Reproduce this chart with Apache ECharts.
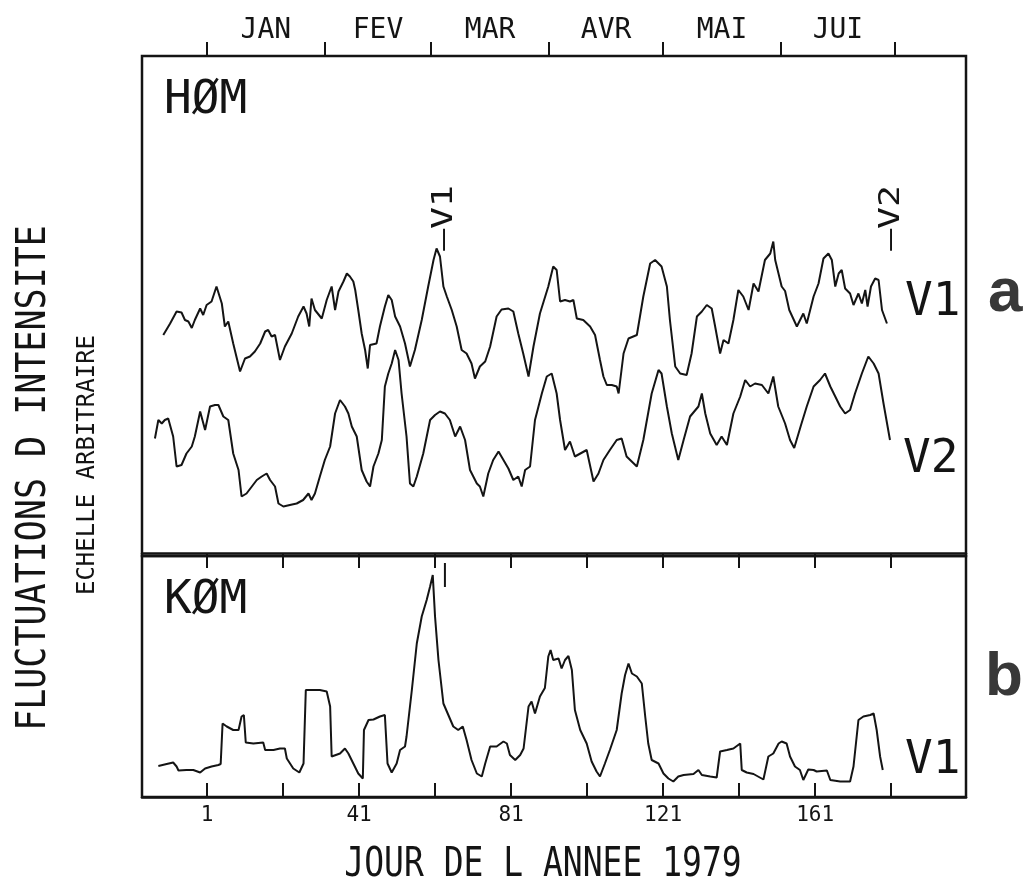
<!DOCTYPE html>
<html><head><meta charset="utf-8">
<script src="https://cdn.jsdelivr.net/npm/echarts@6/dist/echarts.min.js"></script>
<style>html,body{margin:0;padding:0;background:#fff}#c{width:1026px;height:891px}</style>
</head><body><div id="c"></div>
<script>
// ---- axis / tick data ----
const monthNames = ['JAN','FEV','MAR','AVR','MAI','JUI'];
const monthStarts = [1,32,60,91,121,152,182];
const monthMids = [16.5,46,75.5,106,136.5,167];
const tickDays = [1,21,41,61,81,101,121,141,161,181];
const labelDays = [1,41,81,121,161];

// ---- series: [day of year, intensity (arbitrary units)] ----
const homV1 = [[-10.5,43.6],[-8.7,45.9],[-7.0,48.3],[-5.7,48.1],[-4.8,46.6],[-3.9,46.3],[-3.0,45.0],[-2.2,46.6],[-0.8,48.9],[0.0,47.6],
[0.9,49.6],[2.2,50.3],[3.5,53.3],[4.9,49.9],[5.7,45.3],[6.6,46.3],[7.9,41.9],[9.7,36.3],[11.0,38.9],[12.3,39.3],
[13.6,40.3],[15.0,41.9],[16.3,44.3],[17.1,44.6],[18.0,43.3],[18.9,43.6],[20.2,38.6],[21.5,41.3],[23.3,43.9],[25.0,47.3],
[26.4,49.3],[27.2,47.9],[27.9,45.3],[28.5,50.9],[29.4,48.6],[31.2,46.9],[32.5,50.6],[33.8,53.3],[34.7,48.6],[35.6,52.3],
[36.9,54.3],[37.8,55.9],[38.6,55.3],[39.5,54.3],[40.0,52.6],[40.8,48.6],[41.7,43.9],[42.6,40.6],[43.3,36.9],[43.9,41.6],
[45.6,41.9],[46.5,45.3],[47.8,49.3],[48.7,51.6],[49.6,50.6],[50.5,47.3],[51.8,45.3],[53.1,41.9],[54.4,37.3],[55.7,40.6],
[57.5,46.6],[59.2,53.3],[60.6,58.6],[61.4,60.9],[62.3,59.3],[63.2,53.3],[64.1,51.3],[65.4,48.6],[66.7,45.3],[68.0,40.6],
[69.3,39.9],[70.6,37.9],[71.5,34.9],[72.8,37.3],[74.2,38.3],[75.5,41.3],[77.2,47.3],[78.5,48.7],[80.3,48.9],[81.6,48.3],
[82.9,43.9],[84.2,39.9],[85.6,35.3],[86.9,41.3],[88.6,47.9],[90.8,53.3],[92.1,57.3],[93.0,56.6],[93.9,50.3],[95.2,50.6],
[96.5,50.3],[97.4,50.6],[98.3,46.9],[100.0,46.6],[101.8,45.3],[103.1,43.6],[104.4,38.6],[105.3,35.3],[106.2,33.6],[107.5,33.6],
[108.8,33.3],[109.3,31.9],[110.6,39.9],[111.9,42.9],[114.1,43.6],[115.8,51.3],[117.6,57.9],[118.9,58.6],[120.6,57.3],[122.0,53.3],
[122.8,46.6],[124.2,37.3],[125.5,35.9],[127.2,35.6],[128.5,39.9],[129.9,47.3],[131.2,48.3],[132.5,49.6],[133.8,48.9],[134.7,45.3],
[136.0,39.9],[136.9,42.6],[138.2,41.9],[139.5,46.6],[140.8,52.6],[142.1,51.3],[143.5,48.6],[144.8,53.9],[146.1,52.3],[147.8,58.6],
[149.2,59.9],[150.0,62.3],[150.5,58.6],[152.2,53.3],[153.1,52.4],[154.2,48.6],[156.2,45.3],[157.9,47.9],[158.8,45.9],[160.6,51.3],
[161.9,53.9],[163.2,58.9],[164.5,59.9],[165.4,58.6],[166.3,53.3],[167.2,55.9],[168.0,56.6],[168.9,52.9],[170.2,51.9],[171.1,49.6],
[172.4,51.9],[173.3,49.9],[174.2,52.6],[174.8,49.3],[175.7,53.3],[176.8,54.9],[177.7,54.6],[178.6,48.6],[179.9,45.9]];

const homV2 = [[-12.7,22.9],[-11.8,26.6],[-10.9,25.9],[-10.1,26.6],[-9.2,26.9],[-7.9,23.3],[-7.0,17.3],[-5.7,17.6],[-4.4,19.9],[-3.0,21.3],
[-2.2,23.3],[-0.8,28.3],[0.5,24.6],[1.8,29.3],[3.1,29.6],[4.0,29.6],[5.3,27.3],[6.6,26.6],[7.9,19.9],[9.3,16.6],
[10.1,11.3],[11.4,11.9],[12.8,13.3],[14.1,14.6],[15.4,15.3],[16.7,15.9],[17.6,14.6],[18.9,13.3],[19.8,9.9],[21.1,9.3],
[22.8,9.6],[24.6,9.9],[26.3,10.6],[27.7,11.9],[28.5,10.6],[29.4,11.9],[30.7,15.3],[32.0,18.6],[33.4,21.3],[34.7,27.9],
[36.0,30.6],[37.3,29.3],[38.2,27.9],[39.1,25.3],[40.4,23.3],[41.7,16.6],[43.0,14.3],[43.9,13.3],[44.8,17.3],[46.1,19.9],
[47.0,22.6],[47.8,33.3],[48.7,35.9],[49.6,37.9],[50.5,40.6],[51.4,38.6],[52.2,31.9],[53.5,23.3],[54.4,13.9],[55.3,13.3],
[56.2,15.3],[57.9,19.9],[59.7,26.6],[61.0,27.6],[62.3,28.3],[63.6,27.9],[64.9,26.6],[66.3,23.3],[67.6,25.3],[68.9,22.6],
[70.2,16.6],[72.0,13.9],[72.8,13.3],[73.7,11.3],[75.0,15.9],[76.3,18.6],[77.7,20.3],[79.0,18.6],[80.3,16.9],[81.6,14.6],
[82.9,15.3],[83.8,13.3],[84.7,16.6],[86.0,17.3],[87.3,26.6],[89.1,31.9],[90.4,35.3],[91.7,35.9],[93.0,31.9],[93.9,26.6],
[95.2,20.6],[96.5,22.3],[97.8,19.3],[100.9,20.6],[102.7,14.3],[104.0,15.9],[105.3,18.6],[107.0,20.6],[108.8,22.6],[110.1,22.9],
[111.4,19.3],[114.1,17.3],[115.8,22.6],[118.0,31.9],[119.8,36.6],[120.6,35.9],[122.0,29.3],[123.3,23.9],[125.0,18.6],[126.4,22.6],
[128.1,27.3],[130.3,29.3],[131.2,31.9],[132.1,27.9],[133.4,23.9],[135.1,21.6],[136.4,23.3],[137.8,21.6],[139.5,27.9],[141.3,31.3],
[142.6,34.6],[143.9,33.3],[145.2,33.9],[147.0,33.6],[148.7,31.9],[150.0,35.3],[151.3,29.3],[153.1,25.9],[154.4,22.6],[155.5,21.0],
[157.3,25.6],[158.8,29.3],[160.6,33.3],[162.3,34.6],[163.6,35.9],[165.0,33.3],[166.3,31.3],[167.6,29.3],[168.9,27.9],[170.2,28.6],
[171.5,31.9],[173.3,35.9],[175.0,39.3],[176.4,37.9],[177.7,35.9],[179.0,29.9],[180.7,22.6]];

const komV1 = [[-11.8,6.2],[-9.6,6.6],[-7.9,6.9],[-7.0,6.1],[-6.5,5.3],[-4.4,5.4],[-2.6,5.4],[-0.8,4.9],[0.5,5.7],[2.2,6.1],
[4.0,6.4],[4.6,6.6],[5.1,14.7],[6.2,14.1],[7.9,13.4],[9.3,13.4],[10.1,16.1],[10.7,16.4],[11.2,10.9],[13.2,10.7],
[15.8,10.9],[16.3,9.4],[18.5,9.4],[20.2,9.7],[21.5,9.7],[22.0,7.7],[23.7,5.7],[25.3,4.9],[26.4,6.7],[27.0,21.4],
[29.0,21.4],[30.7,21.4],[32.5,21.1],[33.4,18.1],[33.8,8.1],[34.2,8.4],[36.0,8.7],[37.3,9.7],[38.2,8.7],[39.5,6.7],
[40.8,4.7],[42.0,3.7],[42.3,13.4],[43.5,15.4],[44.8,15.5],[46.5,16.1],[47.8,16.4],[48.3,16.2],[48.5,6.7],[49.6,4.9],
[50.9,6.7],[51.8,9.4],[53.1,10.1],[53.5,12.1],[54.9,21.4],[56.2,30.7],[57.5,36.1],[58.8,39.4],[59.7,42.1],[60.4,44.4],
[61.0,36.1],[61.9,27.4],[63.2,18.7],[64.5,16.4],[65.8,14.1],[67.1,13.4],[68.3,14.1],[69.3,11.4],[70.6,7.4],[72.0,4.7],
[73.3,4.1],[74.2,6.7],[75.5,10.1],[77.2,10.1],[79.0,11.1],[79.9,10.7],[80.7,8.4],[82.1,7.4],[83.4,8.4],[84.3,9.7],
[85.6,18.1],[86.4,19.1],[87.3,16.7],[88.6,20.1],[89.9,21.8],[90.8,28.1],[91.4,29.4],[92.1,27.4],[93.5,27.7],[94.3,25.7],
[95.2,27.4],[96.1,28.2],[97.0,25.4],[97.8,17.4],[99.2,13.4],[100.9,10.7],[102.2,7.1],[103.5,5.1],[104.4,4.1],[105.7,6.7],
[107.0,9.4],[108.8,13.4],[110.1,20.7],[111.0,24.4],[111.9,26.7],[112.8,24.7],[114.1,24.1],[115.4,22.7],[116.3,16.1],[117.1,10.7],
[118.0,7.4],[119.8,6.7],[121.1,4.7],[122.4,3.7],[123.7,3.1],[125.0,4.1],[126.4,4.4],[129.0,4.6],[130.3,5.4],[131.2,4.4],
[133.4,4.1],[135.1,3.9],[136.0,9.1],[137.8,9.4],[139.5,9.7],[141.3,10.7],[141.7,5.4],[143.0,4.9],[144.8,4.6],[147.4,3.5],
[148.7,8.1],[150.0,8.7],[151.4,10.7],[152.2,11.1],[153.5,10.7],[154.4,8.1],[155.7,6.1],[157.0,5.4],[157.9,3.4],[159.2,5.5],
[160.6,5.4],[161.4,5.1],[164.1,5.3],[165.0,3.4],[167.6,3.1],[170.2,3.1],[171.1,6.1],[172.4,15.4],[173.7,16.1],[175.5,16.4],
[176.4,16.7],[177.2,13.4],[178.1,8.1],[178.8,5.4]];

// ---- annotation anchors (day, value) ----
const markV1Top = [63.6, 67];
const markV2Top = [181.2, 67];
const markV1Bot = [63.6, 44.4];

const XMIN = -16.1, XMAX = 200.7;
const INK = '#141414';
const MONO = '"DejaVu Sans Mono", monospace';

const chart = echarts.init(document.getElementById('c'), null, {renderer: 'canvas'});

const lineSeries = (data, xi, yi) => ({
  type: 'line', data, xAxisIndex: xi, yAxisIndex: yi, showSymbol: false, symbol: 'none',
  lineStyle: {color: INK, width: 2}, animation: false, silent: true
});

chart.setOption({
  backgroundColor: '#fff',
  animation: false,
  grid: [
    {left: 142, right: 60, top: 56, height: 500, show: true, borderColor: INK, borderWidth: 2.5, backgroundColor: 'transparent'},
    {left: 142, right: 60, top: 556, height: 241, show: true, borderColor: INK, borderWidth: 2.5, backgroundColor: 'transparent'}
  ],
  xAxis: [
    {gridIndex: 0, type: 'value', position: 'top', min: XMIN, max: XMAX,
     axisLine: {show: true, lineStyle: {color: INK, width: 2.5}},
     axisTick: {show: true, inside: true, length: 15, lineStyle: {color: INK, width: 2}, customValues: tickDays},
     axisLabel: {show: false}, splitLine: {show: false}},
    {gridIndex: 0, type: 'value', position: 'top', min: XMIN, max: XMAX,
     axisLine: {show: false},
     axisTick: {show: true, inside: false, length: 14, lineStyle: {color: INK, width: 2}, customValues: monthStarts},
     axisLabel: {show: true, customValues: monthMids, margin: 11, color: INK, fontFamily: MONO, fontSize: 28,
       formatter: v => { const i = monthMids.findIndex(m => Math.abs(m - v) < 0.01); return i >= 0 ? monthNames[i] : ''; }},
     splitLine: {show: false}},
    {gridIndex: 1, type: 'value', position: 'bottom', min: XMIN, max: XMAX,
     axisLine: {show: true, lineStyle: {color: INK, width: 2.5}},
     axisTick: {show: true, inside: true, length: 14, lineStyle: {color: INK, width: 2}, customValues: tickDays},
     axisLabel: {show: true, customValues: labelDays, margin: 8, color: INK, fontFamily: MONO, fontSize: 21,
       formatter: v => String(Math.round(v))},
     splitLine: {show: false}}
  ],
  yAxis: [
    {gridIndex: 0, type: 'value', min: -0.6, max: 99.4, show: false, splitLine: {show: false}},
    {gridIndex: 1, type: 'value', min: 0, max: 48.2, show: false, splitLine: {show: false}}
  ],
  series: [
    lineSeries(homV1, 0, 0),
    lineSeries(homV2, 0, 0),
    lineSeries(komV1, 2, 1)
  ]
});

const p1 = chart.convertToPixel({seriesIndex: 0}, markV1Top);
const p2 = chart.convertToPixel({seriesIndex: 0}, markV2Top);
const p3 = chart.convertToPixel({seriesIndex: 2}, markV1Bot);

const txt = (text, x, y, font, extra) => Object.assign({
  type: 'text', x, y, silent: true,
  style: {text, font, fill: INK, textAlign: 'left', textVerticalAlign: 'middle'}
}, extra || {});

chart.setOption({
  graphic: [
    txt('HØM', 164, 101, '46px ' + MONO),
    txt('KØM', 164, 601, '46px ' + MONO),
    txt('V1', 905, 303, '46px ' + MONO),
    txt('V2', 903, 460, '46px ' + MONO),
    txt('V1', 905, 761, '46px ' + MONO),
    {type: 'text', x: 988, y: 294, silent: true, style: {text: 'a', font: 'bold 62px "Liberation Sans", Arial, sans-serif', fill: '#383838', textAlign: 'left', textVerticalAlign: 'middle'}},
    {type: 'text', x: 985, y: 678, silent: true, style: {text: 'b', font: 'bold 62px "Liberation Sans", Arial, sans-serif', fill: '#383838', textAlign: 'left', textVerticalAlign: 'middle'}},
    {type: 'text', x: 543, y: 865, scaleY: 1.25, silent: true, style: {text: 'JOUR DE L ANNEE 1979', font: '33px ' + MONO, fill: INK, textAlign: 'center', textVerticalAlign: 'middle'}},
    {type: 'text', x: 35, y: 478, rotation: Math.PI / 2, scaleY: 1.15, silent: true, style: {text: 'FLUCTUATIONS D INTENSITE', font: '35px ' + MONO, fill: INK, textAlign: 'center', textVerticalAlign: 'middle'}},
    {type: 'text', x: 88, y: 465, rotation: Math.PI / 2, silent: true, style: {text: 'ECHELLE ARBITRAIRE', font: '24px ' + MONO, fill: INK, textAlign: 'center', textVerticalAlign: 'middle'}},
    {type: 'text', x: p1[0], y: p1[1], rotation: Math.PI / 2, scaleX: 1.3, silent: true, style: {text: '—V1', font: '28px ' + MONO, fill: INK, textAlign: 'center', textVerticalAlign: 'middle'}},
    {type: 'text', x: p2[0], y: p2[1], rotation: Math.PI / 2, scaleX: 1.3, silent: true, style: {text: '—V2', font: '28px ' + MONO, fill: INK, textAlign: 'center', textVerticalAlign: 'middle'}},
    {type: 'line', silent: true, shape: {x1: p3[0], y1: p3[1] - 12, x2: p3[0], y2: p3[1] + 12}, style: {stroke: INK, lineWidth: 2}}
  ]
});
</script>
</body></html>
